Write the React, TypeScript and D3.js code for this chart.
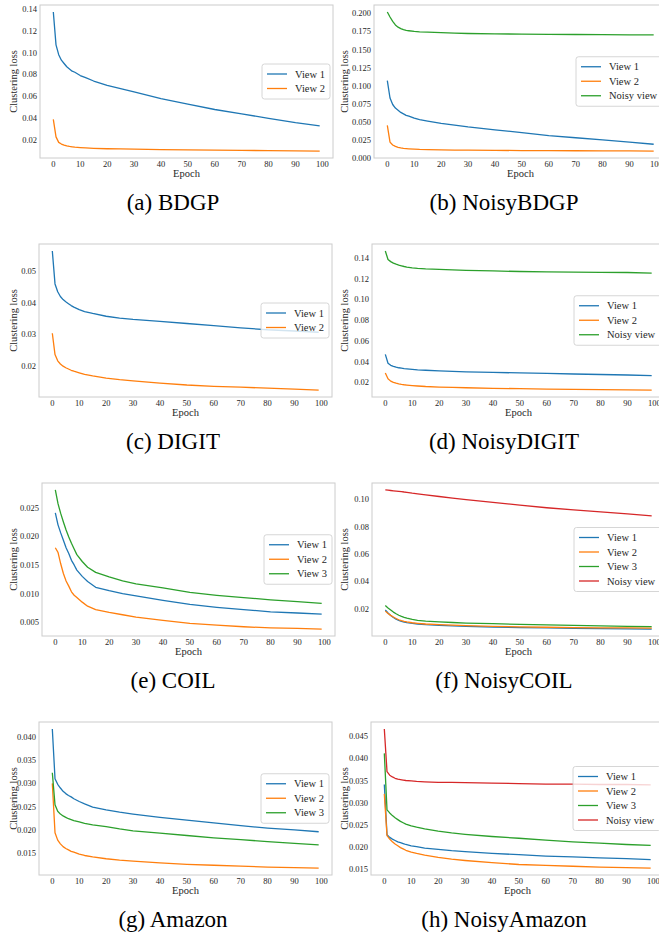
import React from 'react';
import { scaleLinear, line, min, max, format } from 'd3';

const epochs = [0, 1, 2, 3, 4, 5, 6, 7, 8, 10, 12, 15, 20, 25, 30, 40, 50, 60, 70, 80, 90, 99];
const xTicks = [0, 10, 20, 30, 40, 50, 60, 70, 80, 90, 100];

const colors = ['#1f77b4', '#ff7f0e', '#2ca02c', '#d62728'];

// (a) BDGP
const bdgpView1 = [0.137, 0.107, 0.098, 0.093, 0.09, 0.087, 0.085, 0.083, 0.082, 0.079, 0.077, 0.074, 0.07, 0.067, 0.064, 0.058, 0.053, 0.048, 0.044, 0.04, 0.036, 0.033];
const bdgpView2 = [0.039, 0.023, 0.018, 0.0165, 0.0155, 0.0148, 0.0143, 0.014, 0.0137, 0.0133, 0.013, 0.0126, 0.0122, 0.012, 0.0118, 0.0114, 0.0111, 0.0109, 0.0107, 0.0105, 0.0103, 0.0101];
const bdgpTicks = [0.02, 0.04, 0.06, 0.08, 0.1, 0.12, 0.14];

// (b) NoisyBDGP
const nbdgpView1 = [0.107, 0.083, 0.074, 0.069, 0.066, 0.063, 0.061, 0.059, 0.058, 0.055, 0.053, 0.051, 0.048, 0.0455, 0.043, 0.039, 0.035, 0.031, 0.028, 0.025, 0.022, 0.019];
const nbdgpView2 = [0.045, 0.022, 0.018, 0.016, 0.0148, 0.014, 0.0133, 0.013, 0.0127, 0.0122, 0.0118, 0.0115, 0.0112, 0.011, 0.0108, 0.0105, 0.0103, 0.0101, 0.01, 0.0099, 0.0097, 0.0096];
const nbdgpNoisy = [0.202, 0.195, 0.189, 0.184, 0.181, 0.179, 0.1775, 0.1765, 0.176, 0.175, 0.1745, 0.174, 0.1733, 0.1728, 0.1722, 0.1717, 0.1713, 0.171, 0.1708, 0.1706, 0.1704, 0.1702];
const nbdgpTicks = [0, 0.025, 0.05, 0.075, 0.1, 0.125, 0.15, 0.175, 0.2];

// (c) DIGIT
const digitView1 = [0.0565, 0.046, 0.0435, 0.042, 0.041, 0.0403, 0.0397, 0.0391, 0.0386, 0.0378, 0.0372, 0.0366, 0.0357, 0.0351, 0.0347, 0.0341, 0.0334, 0.0327, 0.032, 0.0314, 0.031, 0.0306];
const digitView2 = [0.0303, 0.0235, 0.0215, 0.0205, 0.0198, 0.0193, 0.0189, 0.0185, 0.0182, 0.0177, 0.0172, 0.0167, 0.016, 0.0155, 0.0151, 0.0144, 0.0138, 0.0134, 0.0131, 0.0128, 0.0125, 0.0122];
const digitTicks = [0.02, 0.03, 0.04, 0.05];

// (d) NoisyDIGIT
const ndigitView1 = [0.047, 0.0385, 0.0365, 0.0355, 0.0347, 0.0341, 0.0337, 0.0333, 0.033, 0.0325, 0.0321, 0.0317, 0.0311, 0.0306, 0.0302, 0.0296, 0.0291, 0.0286, 0.0281, 0.0276, 0.0271, 0.0266];
const ndigitView2 = [0.029, 0.0235, 0.0212, 0.02, 0.0192, 0.0186, 0.0181, 0.0177, 0.0174, 0.0169, 0.0165, 0.016, 0.0155, 0.0151, 0.0148, 0.0143, 0.0139, 0.0135, 0.0132, 0.013, 0.0128, 0.0126];
const ndigitNoisy = [0.1468, 0.1385, 0.1365, 0.135, 0.134, 0.1332, 0.1325, 0.1318, 0.1313, 0.1305, 0.13, 0.1295, 0.129, 0.1285, 0.128, 0.1275, 0.127, 0.1266, 0.1263, 0.1261, 0.126, 0.1255];
const ndigitTicks = [0.02, 0.04, 0.06, 0.08, 0.1, 0.12, 0.14];

// (e) COIL
const coilView1 = [0.0241, 0.022, 0.0206, 0.0193, 0.018, 0.017, 0.0158, 0.015, 0.0141, 0.013, 0.0121, 0.0111, 0.0105, 0.01, 0.0096, 0.0088, 0.0081, 0.0076, 0.0072, 0.0068, 0.0066, 0.0064];
const coilView2 = [0.018, 0.0172, 0.0152, 0.0135, 0.0122, 0.0113, 0.0103, 0.0097, 0.0093, 0.0085, 0.0078, 0.0072, 0.0067, 0.0063, 0.0059, 0.0053, 0.0048, 0.0045, 0.0042, 0.004, 0.0039, 0.0038];
const coilView3 = [0.0281, 0.0257, 0.024, 0.0225, 0.0211, 0.0199, 0.0188, 0.0178, 0.0168, 0.0156, 0.0146, 0.0137, 0.0129, 0.0122, 0.0117, 0.011, 0.0102, 0.0097, 0.0093, 0.0089, 0.0086, 0.0083];
const coilTicks = [0.005, 0.01, 0.015, 0.02, 0.025];

// (f) NoisyCOIL
const ncoilView1 = [0.019, 0.0168, 0.015, 0.0135, 0.0123, 0.0114, 0.0107, 0.0102, 0.0098, 0.0092, 0.0088, 0.0083, 0.0078, 0.0074, 0.0071, 0.0066, 0.0062, 0.0059, 0.0056, 0.0054, 0.0052, 0.0051];
const ncoilView2 = [0.0182, 0.0165, 0.0151, 0.0139, 0.0128, 0.0119, 0.0112, 0.0107, 0.0103, 0.0097, 0.0093, 0.0088, 0.0083, 0.0079, 0.0076, 0.0071, 0.0067, 0.0064, 0.0062, 0.006, 0.0059, 0.0058];
const ncoilView3 = [0.0223, 0.0205, 0.019, 0.0175, 0.0163, 0.0152, 0.0143, 0.0136, 0.013, 0.0121, 0.0115, 0.0109, 0.0103, 0.0099, 0.0095, 0.009, 0.0085, 0.0081, 0.0078, 0.0074, 0.0071, 0.0068];
const ncoilNoisy = [0.1068, 0.1066, 0.1064, 0.1062, 0.106, 0.1058, 0.1056, 0.1053, 0.1051, 0.1045, 0.104, 0.1032, 0.102, 0.1008, 0.0997, 0.0977, 0.0957, 0.0938, 0.0922, 0.0907, 0.0893, 0.0878];
const ncoilTicks = [0.02, 0.04, 0.06, 0.08, 0.1];

// (g) Amazon
const amazonView1 = [0.0417, 0.031, 0.0298, 0.029, 0.0283, 0.0278, 0.0274, 0.0271, 0.0267, 0.0261, 0.0256, 0.0249, 0.0243, 0.0238, 0.0234, 0.0227, 0.0221, 0.0215, 0.0209, 0.0204, 0.02, 0.0196];
const amazonView2 = [0.03, 0.0194, 0.0178, 0.017, 0.0164, 0.016, 0.0157, 0.0154, 0.0152, 0.0148, 0.0145, 0.0142, 0.0138, 0.0135, 0.0133, 0.0129, 0.0126, 0.0124, 0.0122, 0.012, 0.0119, 0.0118];
const amazonView3 = [0.0323, 0.0254, 0.024, 0.0234, 0.023, 0.0227, 0.0224, 0.0222, 0.022, 0.0217, 0.0214, 0.0211, 0.0207, 0.0202, 0.0198, 0.0193, 0.0188, 0.0183, 0.0179, 0.0175, 0.0171, 0.0168];
const amazonTicks = [0.015, 0.02, 0.025, 0.03, 0.035, 0.04];

// (h) NoisyAmazon
const namazonView1 = [0.0341, 0.0228, 0.0222, 0.0218, 0.0215, 0.0212, 0.021, 0.0208, 0.0206, 0.0203, 0.0201, 0.0198, 0.0195, 0.0192, 0.019, 0.0186, 0.0183, 0.018, 0.0178, 0.0176, 0.0174, 0.0172];
const namazonView2 = [0.032, 0.0226, 0.0218, 0.0212, 0.0207, 0.0203, 0.0199, 0.0196, 0.0193, 0.0189, 0.0186, 0.0182, 0.0177, 0.0173, 0.017, 0.0165, 0.0161, 0.0159, 0.0157, 0.0155, 0.0154, 0.0153];
const namazonView3 = [0.0411, 0.0284, 0.0277, 0.0271, 0.0266, 0.0262, 0.0258, 0.0255, 0.0252, 0.0248, 0.0245, 0.0241, 0.0236, 0.0232, 0.0229, 0.0224, 0.022, 0.0216, 0.0212, 0.0209, 0.0206, 0.0204];
const namazonNoisy = [0.0466, 0.037, 0.0362, 0.0358, 0.0355, 0.0353, 0.0352, 0.0351, 0.035, 0.0349, 0.0348, 0.0347, 0.0346, 0.0346, 0.0345, 0.0344, 0.0343, 0.0342, 0.0342, 0.0341, 0.0341, 0.034];
const namazonTicks = [0.015, 0.02, 0.025, 0.03, 0.035, 0.04, 0.045];

const twoViews = ['View 1', 'View 2'];
const twoNoisy = ['View 1', 'View 2', 'Noisy view'];
const threeViews = ['View 1', 'View 2', 'View 3'];
const threeNoisy = ['View 1', 'View 2', 'View 3', 'Noisy view'];

const panels = [
  { caption: '(a) BDGP', left: 40, top: 5, series: [bdgpView1, bdgpView2], labels: twoViews, ticks: bdgpTicks, fmt: '.2f', capX: 173 },
  { caption: '(b) NoisyBDGP', left: 374, top: 5, series: [nbdgpView1, nbdgpView2, nbdgpNoisy], labels: twoNoisy, ticks: nbdgpTicks, fmt: '.3f', capX: 504 },
  { caption: '(c) DIGIT', left: 39, top: 244, series: [digitView1, digitView2], labels: twoViews, ticks: digitTicks, fmt: '.2f', capX: 173 },
  { caption: '(d) NoisyDIGIT', left: 372, top: 244, series: [ndigitView1, ndigitView2, ndigitNoisy], labels: twoNoisy, ticks: ndigitTicks, fmt: '.2f', capX: 504 },
  { caption: '(e) COIL', left: 42, top: 483, series: [coilView1, coilView2, coilView3], labels: threeViews, ticks: coilTicks, fmt: '.3f', capX: 173 },
  { caption: '(f) NoisyCOIL', left: 372, top: 483, series: [ncoilView1, ncoilView2, ncoilView3, ncoilNoisy], labels: threeNoisy, ticks: ncoilTicks, fmt: '.2f', capX: 504 },
  { caption: '(g) Amazon', left: 39, top: 722, series: [amazonView1, amazonView2, amazonView3], labels: threeViews, ticks: amazonTicks, fmt: '.3f', capX: 173 },
  { caption: '(h) NoisyAmazon', left: 371, top: 722, series: [namazonView1, namazonView2, namazonView3, namazonNoisy], labels: threeNoisy, ticks: namazonTicks, fmt: '.3f', capX: 504 },
];

const W = 293;
const H = 153;
const serif = '"Liberation Serif", "Times New Roman", serif';
const tickColor = '#262626';

function Panel({ p }) {
  const all = p.series.flat();
  const lo = min(all);
  const hi = max(all);
  const pad = (hi - lo) * 0.05;
  const x = scaleLinear().domain([-4.95, 103.95]).range([p.left, p.left + W]);
  const y = scaleLinear().domain([lo - pad, hi + pad]).range([p.top + H, p.top]);
  const path = line()
    .x((d, i) => x(epochs[i]))
    .y((d) => y(d));
  const f = format(p.fmt);
  const right = p.left + W;
  const bottom = p.top + H;

  const noisy = p.labels.includes('Noisy view');
  const lw = noisy ? 88 : 68;
  const lh = p.labels.length * 14.5 + 6;
  const lx = right - 3 - lw;
  const ly = p.top + H / 2 - lh / 2;

  const labelX = p.left < 200 ? 17 : 348;

  return (
    <g>
      {p.series.map((s, i) => (
        <path key={i} d={path(s)} fill="none" stroke={colors[i]} strokeWidth={1.3} strokeLinejoin="round" />
      ))}
      <rect x={p.left} y={p.top} width={W} height={H} fill="none" stroke="#cccccc" strokeWidth={1} />
      {p.ticks.map((t) => (
        <text key={t} x={p.left - 3} y={y(t) + 3} fontSize={8.5} textAnchor="end" fill={tickColor} fontFamily={serif}>
          {f(t)}
        </text>
      ))}
      {xTicks.map((t) => (
        <text key={t} x={x(t)} y={bottom + 9} fontSize={8.5} textAnchor="middle" fill={tickColor} fontFamily={serif}>
          {t}
        </text>
      ))}
      <text x={(p.left + right) / 2} y={bottom + 19} fontSize={10.5} textAnchor="middle" fill={tickColor} fontFamily={serif}>
        Epoch
      </text>
      <text
        transform={`translate(${labelX},${p.top + H / 2}) rotate(-90)`}
        fontSize={10.5}
        textAnchor="middle"
        fill={tickColor}
        fontFamily={serif}
      >
        Clustering loss
      </text>
      <rect x={lx} y={ly} width={lw} height={lh} rx={2.5} fill="white" fillOpacity={0.8} stroke="#cccccc" strokeWidth={0.8} />
      {p.labels.map((l, i) => (
        <g key={l}>
          <line x1={lx + 5} x2={lx + 25} y1={ly + 10 + i * 14.5} y2={ly + 10 + i * 14.5} stroke={colors[i]} strokeWidth={1.3} />
          <text x={lx + 33} y={ly + 13.5 + i * 14.5} fontSize={10.5} fill={tickColor} fontFamily={serif}>
            {l}
          </text>
        </g>
      ))}
      <text x={p.capX} y={p.top + 205} fontSize={23} textAnchor="middle" fill="#000" fontFamily={serif}>
        {p.caption}
      </text>
    </g>
  );
}

export default function App() {
  return (
    <svg width={659} height={937} style={{ position: 'absolute', left: 0, top: 0, background: 'white' }}>
      <rect width={659} height={937} fill="white" />
      {panels.map((p) => (
        <Panel key={p.caption} p={p} />
      ))}
    </svg>
  );
}
